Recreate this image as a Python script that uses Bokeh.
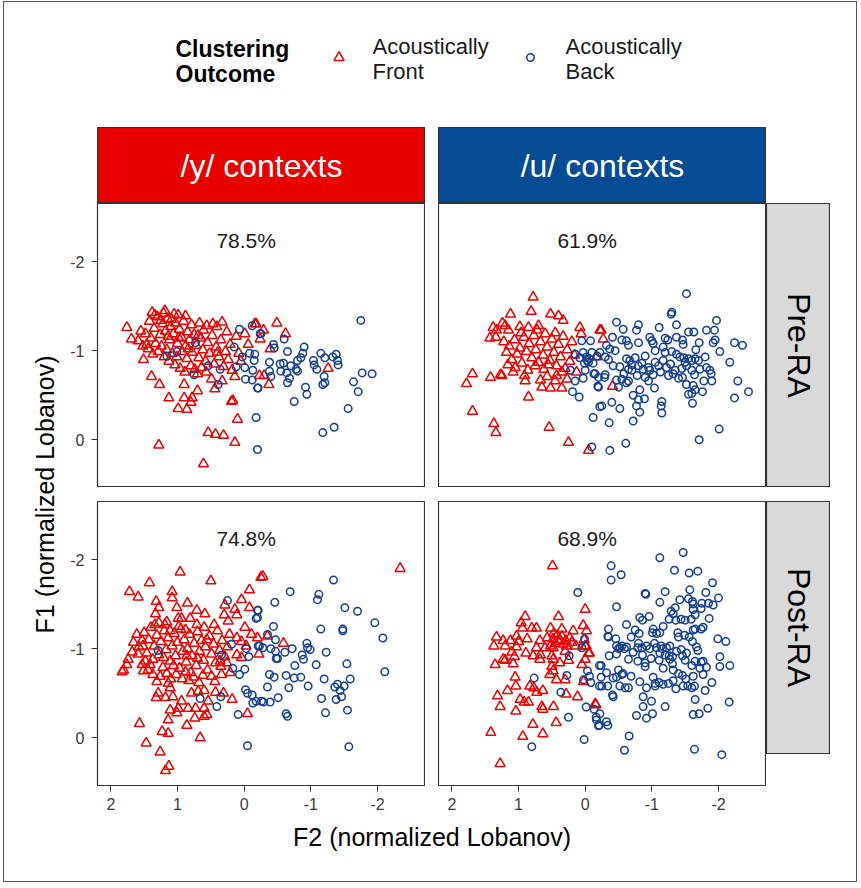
import math
from bokeh.plotting import figure
from bokeh.layouts import row, column
from bokeh.models import Range1d, FixedTicker, Spacer, CustomJSTickFormatter
from bokeh.core.properties import value
from bokeh.embed import file_html
from bokeh.resources import INLINE

# ---------------- data (F2, F1) in normalized Lobanov units ----------------
facet_cols = ["/y/ contexts", "/u/ contexts"]
facet_rows = ["Pre-RA", "Post-RA"]
pct_labels = ["78.5%", "61.9%", "74.8%", "68.9%"]
x_ticks = [2, 1, 0, -1, -2]
y_ticks = [-2, -1, 0]

y_pre_front = [
    (1.38,-1.43),(1.21,-1.42),(0.99,-1.40),(0.88,-1.39),(1.76,-1.26),(1.09,-1.35),(0.67,-1.31),(0.56,-1.28),
    (0.41,-1.27),(0.33,-1.32),(-0.16,-1.30),(1.69,-1.13),(1.59,-1.11),(1.46,-1.07),(1.51,-0.90),(1.39,-0.71),
    (1.27,-0.62),(1.13,-0.47),(0.99,-0.35),(0.86,-0.34),(0.90,-0.47),(0.78,-0.47),(0.80,-0.42),(0.70,-0.55),
    (0.90,-0.62),(0.44,-0.57),(0.33,-0.66),(0.49,-0.68),(0.17,-0.44),(0.19,-0.43),(0.10,-0.23),(0.54,-0.08),
    (0.43,-0.06),(0.31,-0.05),(0.14,0.03),(1.28,0.06),(0.61,0.27),(0.14,-0.71),(-0.06,-1.07),(-0.01,-1.19),
    (-0.49,-1.31),(-0.29,-1.23),(-0.62,-1.19),(-0.24,-1.13),(-0.39,-1.02),(-1.26,-0.80),(-0.30,-0.72),
    (-0.23,-0.72),(-0.37,-0.62),(-0.18,-1.30),
    (1.42,-1.33),(1.35,-1.25),(1.30,-1.38),(1.26,-1.18),(1.22,-1.30),(1.18,-1.22),(1.15,-1.36),(1.12,-1.12),
    (1.10,-1.27),(1.06,-1.19),(1.03,-1.31),(1.00,-1.08),(0.97,-1.24),(0.94,-1.15),(0.91,-1.33),(0.88,-1.05),
    (0.85,-1.21),(0.82,-1.12),(0.78,-0.98),(0.75,-1.18),(0.72,-1.06),(0.68,-0.92),(0.65,-1.14),(0.62,-1.01),
    (0.58,-0.88),(0.55,-1.09),(0.52,-0.97),(0.48,-1.17),(0.45,-0.85),(0.42,-1.04),(0.38,-0.93),(0.35,-1.12),
    (0.31,-0.82),(0.28,-0.99),(0.24,-0.90),(0.21,-1.07),(0.18,-0.78),(1.48,-1.19),(1.44,-1.02),(1.40,-1.14),
    (1.37,-0.96),(1.33,-1.08),(1.29,-0.99),(1.24,-1.05),(1.20,-0.93),(1.16,-1.01),(1.13,-0.88),(1.08,-0.97),
    (1.04,-0.84),(1.01,-0.93),(0.96,-0.80),(0.93,-0.99),(0.89,-0.76),(0.86,-0.91),(0.80,-0.83),(0.74,-0.79),
    (0.70,-0.74),(0.64,-0.81),(0.57,-0.76),(1.34,-1.40),(1.19,-1.45),(1.05,-1.41),(0.79,-1.29),(0.61,-1.23),
    (0.47,-1.30),(0.26,-1.21),(0.12,-1.16),(0.08,-0.97),(0.05,-0.88),(1.55,-1.22),(1.52,-1.05),(1.25,-1.34),
    (1.14,-1.16),(0.98,-1.14),(0.84,-1.02),(0.69,-1.17),(0.40,-0.98),
]
y_pre_back = [
    (0.73,-1.09),(1.01,-0.99),(1.16,-0.94),(0.54,-0.83),(0.36,-0.79),(0.75,-0.73),(0.39,-0.62),(0.15,-1.04),
    (0.07,-1.24),(-0.12,-1.28),(-0.24,-1.19),(0.03,-0.93),(-0.08,-0.97),(-0.16,-0.96),(-0.15,-0.89),(-0.01,-0.81),
    (-0.13,-0.78),(-0.02,-0.68),(-0.12,-0.67),(-0.21,-0.58),(0.12,-0.82),(-0.18,-0.25),(-0.20,0.11),
    (-1.75,-1.34),(-0.25,-1.19),(-0.60,-1.13),(-0.44,-1.07),(-0.45,-1.03),(-0.65,-0.99),(-0.90,-1.04),(-0.88,-0.97),
    (-0.85,-0.92),(-0.80,-0.89),(-0.38,-0.87),(-0.54,-0.85),(-0.59,-0.86),(-0.70,-0.83),(-0.55,-0.77),(-0.64,-0.75),
    (-0.78,-0.79),(-0.80,-0.77),(-0.38,-0.77),(-0.40,-0.71),(-0.68,-0.69),(-0.65,-0.64),(-1.15,-0.97),(-1.21,-0.92),
    (-1.04,-0.89),(-1.05,-0.84),(-1.09,-0.79),(-1.33,-0.93),(-1.38,-0.96),(-1.40,-0.89),(-1.41,-0.84),(-1.20,-0.71),
    (-1.21,-0.64),(-1.18,-0.62),(-1.77,-0.75),(-1.92,-0.74),(-1.64,-0.65),(-1.71,-0.54),(-0.92,-0.59),(-0.94,-0.51),
    (-0.75,-0.43),(-1.56,-0.35),(-1.35,-0.14),(-1.18,-0.08),(-0.20,-0.58),
]
u_pre_front = [
    (0.78,-1.60),(1.12,-1.41),(0.81,-1.44),(0.52,-1.41),(0.40,-1.39),(0.33,-1.34),(1.24,-1.31),(1.20,-1.28),
    (1.38,-1.26),(1.33,-1.23),(1.15,-1.23),(1.43,-1.14),(1.34,-1.15),(0.98,-1.27),(0.85,-1.26),(0.70,-1.28),
    (0.72,-1.23),(0.08,-1.26),(0.06,-1.19),(-0.22,-1.23),(1.69,-0.74),(1.78,-0.63),(1.42,-0.70),(1.27,-0.73),
    (1.25,-0.72),(1.08,-0.76),(0.90,-0.66),(0.91,-0.72),(0.67,-0.67),(0.65,-0.59),(0.52,-0.58),(0.35,-0.58),
    (0.45,-0.66),(0.27,-0.68),(0.57,-0.71),(0.43,-0.72),(0.85,-0.48),(1.69,-0.32),(1.37,-0.18),(1.34,-0.08),
    (0.54,-0.14),(0.25,0.03),(-0.05,0.12),(0.13,-0.76),(-0.24,-1.23),(-0.27,-1.13),(-0.41,-0.60),(-0.17,-0.93),
    (1.22,-1.10),(1.18,-0.98),(1.14,-1.05),(1.10,-0.90),(1.06,-1.12),(1.02,-0.96),(0.98,-1.03),(0.95,-0.86),
    (0.92,-1.15),(0.88,-0.99),(0.84,-1.08),(0.80,-0.92),(0.77,-1.17),(0.74,-1.01),(0.70,-0.87),(0.67,-1.10),
    (0.63,-0.95),(0.60,-1.19),(0.57,-1.04),(0.53,-0.89),(0.50,-1.13),(0.47,-0.98),(0.43,-0.83),(0.40,-1.07),
    (0.37,-0.93),(0.33,-1.16),(0.30,-0.80),(0.27,-1.01),(0.23,-0.88),(0.20,-1.10),(0.16,-0.95),(1.05,-0.81),
    (0.86,-0.78),(0.62,-0.79),(1.16,-0.84),(0.96,-1.20),(0.55,-0.84),(0.35,-0.76),(0.75,-0.83),(0.45,-1.20),
]
u_pre_back = [
    (0.05,-1.11),(-0.08,-1.11),(0.15,-0.96),(0.03,-0.98),(-0.10,-0.98),(-0.03,-0.89),(-0.05,-0.87),(-0.18,-0.94),
    (0.22,-0.78),(0.00,-0.78),(-0.13,-0.74),(0.15,-0.66),(0.03,-0.69),(-0.19,-0.60),(0.19,-0.54),(0.09,-0.48),
    (-0.22,-0.37),(-0.12,-0.25),(-0.10,0.08),
    (-1.52,-1.64),(-1.30,-1.43),(-1.29,-1.41),(-0.47,-1.32),(-0.80,-1.29),(-0.77,-1.23),(-0.57,-1.24),(-1.11,-1.26),
    (-1.37,-1.29),(-1.55,-1.21),(-1.63,-1.21),(-1.82,-1.23),(-1.94,-1.23),(-1.97,-1.34),(-0.41,-1.15),(-0.55,-1.12),
    (-0.62,-1.11),(-0.65,-1.06),(-0.80,-1.09),(-0.97,-1.15),(-1.00,-1.11),(-1.02,-1.08),(-1.20,-1.14),(-1.24,-1.12),
    (-1.37,-1.15),(-1.46,-1.12),(-1.47,-1.07),(-1.71,-1.09),(-1.92,-1.09),(-1.95,-1.12),(-2.24,-1.09),(-2.36,-1.06),
    (-2.02,-0.99),(-0.32,-1.06),(-0.37,-1.02),(-0.22,-0.98),(-0.30,-0.93),(-0.35,-0.90),(-0.45,-1.00),(-0.62,-0.91),
    (-0.67,-0.89),(-0.75,-0.92),(-0.90,-0.94),(-1.05,-1.00),(-1.17,-1.04),(-1.20,-0.98),(-1.30,-0.99),(-1.37,-0.96),
    (-1.42,-0.93),(-1.50,-0.87),(-1.52,-0.83),(-1.55,-0.91),(-1.60,-0.89),(-1.66,-1.01),(-1.65,-0.91),(-1.70,-0.89),
    (-1.80,-0.93),(-2.17,-0.87),(-0.42,-0.83),(-0.52,-0.82),(-0.65,-0.79),(-0.70,-0.78),(-0.80,-0.83),(-0.87,-0.79),
    (-0.95,-0.81),(-0.97,-0.78),(-1.05,-0.87),(-1.17,-0.89),(-1.22,-0.81),(-1.25,-0.72),(-1.35,-0.78),(-1.32,-0.74),
    (-1.40,-0.69),(-1.46,-0.70),(-1.60,-0.78),(-1.64,-0.73),(-1.72,-0.79),(-1.82,-0.81),(-1.87,-0.78),(-1.89,-0.74),
    (-1.90,-0.66),(-1.78,-0.66),(-0.15,-0.74),(-0.20,-0.70),(-0.30,-0.73),(-0.29,-0.70),(-0.47,-0.67),(-0.55,-0.68),
    (-0.62,-0.64),(-0.65,-0.66),(-0.95,-0.66),(-1.02,-0.73),(-0.20,-0.59),(-0.50,-0.59),(-1.04,-0.58),(-0.82,-0.56),
    (-1.52,-0.62),(-1.62,-0.61),(-1.65,-0.56),(-1.55,-0.51),(-1.60,-0.52),(-1.76,-0.54),(-2.29,-0.66),(-2.45,-0.54),
    (-2.24,-0.47),(-0.72,-0.50),(-0.80,-0.45),(-0.89,-0.46),(-0.77,-0.38),(-0.82,-0.31),(-1.15,-0.43),(-1.14,-0.38),
    (-1.15,-0.30),(-1.61,-0.41),(-0.40,-0.42),(-0.52,-0.35),(-0.25,-0.38),(-0.72,-0.21),(-0.36,-0.19),(-2.01,-0.12),
    (-1.71,0.00),(-0.61,0.04),(-0.37,0.12),
    (-0.02,-0.93),(-0.06,-0.91),(0.01,-0.86),(-0.12,-0.86),(0.08,-0.92),(-0.70,-0.84),(-0.85,-0.86),(-1.10,-0.83),
    (-1.13,-0.76),(-1.28,-0.85),(-1.45,-0.80),(-1.48,-0.92),(-0.58,-0.74),(-0.78,-0.72),(-0.90,-0.70),
]
y_post_front = [
    (0.96,-1.86),(1.42,-1.74),(0.50,-1.76),(1.72,-1.64),(1.59,-1.58),(1.08,-1.64),(1.08,-1.57),(1.32,-1.53),
    (1.28,-1.46),(1.33,-1.39),(0.85,-1.51),(1.01,-1.46),(0.99,-1.34),(0.71,-1.43),(0.59,-1.39),(-0.08,-1.66),
    (-0.25,-1.80),(0.04,-1.55),(0.29,-1.49),(0.14,-1.44),(0.30,-1.38),(0.11,-1.38),(-0.08,-1.46),(0.24,-1.31),
    (-0.01,-1.24),(0.94,-1.34),(0.81,-1.34),(0.71,-1.27),(1.28,-1.29),(1.19,-1.27),(1.11,-1.20),(1.61,-1.16),
    (1.66,-1.07),(1.53,-1.09),(1.68,-0.96),(1.59,-0.94),(1.74,-0.88),(1.76,-0.82),(1.83,-0.74),(1.81,-0.76),
    (1.53,-0.82),(1.51,-0.75),(1.41,-0.82),(1.37,-0.71),(1.31,-0.63),(1.16,-0.72),(1.14,-0.61),(1.11,-0.56),
    (1.29,-0.50),(1.32,-0.45),(1.18,-0.45),(1.07,-0.46),(0.94,-0.41),(0.79,-0.50),(0.69,-0.52),(0.60,-0.53),
    (1.11,-0.31),(0.99,-0.33),(1.01,-0.28),(1.14,-0.20),(0.84,-0.33),(0.73,-0.33),(0.74,-0.22),(0.86,-0.14),
    (0.60,-0.33),(0.56,-0.26),(0.60,-0.24),(0.43,-0.51),(0.31,-0.50),(0.18,-0.43),(0.54,-0.41),(1.57,-0.16),
    (1.23,-0.07),(1.14,-0.05),(0.66,0.00),(-0.05,-0.27),(1.47,0.06),(1.26,0.16),(1.13,0.32),(1.18,0.37),
    (0.49,-0.69),(0.44,-0.63),(0.34,-0.71),(0.36,-0.86),(0.26,-0.84),(0.21,-0.73),(0.11,-1.12),(0.04,-1.08),
    (-0.03,-1.03),(-0.11,-1.16),(0.11,-0.93),(0.04,-0.90),
    (-0.28,-1.81),(-2.34,-1.90),(-0.20,-1.12),(-0.35,-1.14),(-0.59,-1.06),(-0.22,-0.94),
    (1.58,-1.02),(1.50,-1.18),(1.46,-0.95),(1.43,-1.10),(1.40,-1.24),(1.37,-0.88),(1.35,-1.03),(1.31,-1.15),
    (1.28,-0.93),(1.25,-1.08),(1.22,-0.79),(1.20,-1.20),(1.17,-0.99),(1.14,-1.12),(1.11,-0.86),(1.08,-1.03),
    (1.05,-1.17),(1.03,-0.92),(1.00,-1.07),(0.97,-0.78),(0.95,-1.22),(0.92,-0.97),(0.90,-1.10),(0.87,-0.85),
    (0.85,-1.00),(0.82,-1.16),(0.80,-0.73),(0.78,-0.92),(0.75,-1.06),(0.72,-0.81),(0.70,-1.19),(0.67,-0.97),
    (0.64,-1.09),(0.61,-0.87),(0.58,-1.02),(0.55,-0.76),(0.52,-1.14),(0.49,-0.94),(0.46,-1.05),(0.43,-0.84),
    (0.40,-1.20),(0.37,-0.98),(0.33,-1.09),(0.29,-0.91),(0.25,-1.02),(0.22,-1.16),(1.48,-0.86),(1.44,-0.76),
    (1.26,-0.69),(1.10,-0.66),(1.02,-0.71),(0.93,-0.66),(0.88,-0.74),(0.83,-0.64),(0.76,-0.68),(0.68,-0.62),
    (0.62,-0.70),(1.34,-1.27),(1.16,-1.30),(0.98,-1.25),(0.88,-1.21),(0.60,-1.24),(0.45,-1.27),(1.52,-1.03),
    (1.21,-0.90),(1.06,-0.81),(0.86,-0.92),(0.70,-0.89),(0.56,-1.10),(0.35,-0.80),
]
y_post_back = [
    (0.25,-1.54),(-0.20,-1.43),(-0.18,-1.34),(0.19,-1.05),(-0.03,-1.00),(-0.21,-1.03),(-0.07,-0.91),(0.17,-0.78),
    (0.07,-0.71),(-0.01,-0.77),(-0.02,-0.54),(-0.05,-0.50),(-0.12,-0.48),(-0.13,-0.39),(-0.26,-0.41),(0.66,-0.44),
    (0.41,-0.35),(0.35,-0.46),(0.09,-0.26),(-0.05,0.09),(1.29,-0.98),(0.34,-0.93),
    (-1.34,-1.77),(-0.69,-1.64),(-1.12,-1.61),(-1.10,-1.55),(-0.46,-1.52),(-1.51,-1.46),(-1.70,-1.42),(-0.21,-1.43),
    (-0.20,-1.35),(-0.44,-1.25),(-1.15,-1.22),(-1.48,-1.22),(-1.48,-1.20),(-1.96,-1.29),(-2.08,-1.12),(-0.35,-1.16),
    (-0.47,-1.10),(-0.23,-1.03),(-0.28,-1.01),(-0.40,-1.00),(-0.47,-0.97),(-0.61,-0.96),(-0.72,-1.00),(-0.48,-0.89),
    (-0.50,-0.89),(-0.94,-1.06),(-0.95,-1.01),(-0.99,-0.99),(-0.87,-0.93),(-0.89,-0.88),(-1.23,-0.96),(-0.76,-0.81),
    (-1.08,-0.82),(-1.54,-0.83),(-2.11,-0.74),(-0.38,-0.71),(-0.45,-0.68),(-0.63,-0.70),(-0.75,-0.67),(-0.85,-0.68),
    (-1.20,-0.66),(-1.59,-0.66),(-0.35,-0.57),(-0.67,-0.56),(-0.96,-0.58),(-1.40,-0.60),(-1.36,-0.57),(-1.50,-0.58),
    (-1.44,-0.53),(-1.46,-0.46),(-1.38,-0.43),(-0.51,-0.45),(-0.29,-0.40),(-0.39,-0.40),(-1.16,-0.44),(-0.63,-0.27),
    (-0.65,-0.24),(-1.22,-0.28),(-1.55,-0.31),(-1.57,0.10),(-0.18,-0.41),
]
u_post_front = [
    (0.49,-1.93),(0.00,-1.44),(0.90,-1.36),(0.40,-1.36),(0.96,-1.29),(0.94,-1.23),(0.80,-1.23),(0.73,-1.23),
    (0.52,-1.23),(0.35,-1.22),(0.18,-1.20),(0.03,-1.26),(-0.02,-1.20),(1.33,-1.13),(1.23,-1.09),(1.12,-1.09),
    (1.03,-1.14),(1.00,-1.08),(0.87,-1.11),(0.68,-1.09),(0.57,-1.12),(0.48,-1.11),(0.45,-1.06),(0.40,-1.08),
    (0.35,-1.14),(0.29,-1.09),(0.23,-1.12),(0.20,-1.07),(1.37,-1.03),(1.20,-1.03),(1.03,-1.02),(0.73,-1.01),
    (0.60,-1.01),(0.52,-1.03),(0.48,-1.01),(0.28,-1.03),(0.14,-1.03),(0.00,-1.03),(1.10,-0.96),(0.89,-0.95),
    (0.78,-0.92),(0.67,-0.93),(0.50,-0.92),(0.30,-0.97),(-0.05,-0.95),(1.35,-0.82),(1.23,-0.88),(1.20,-0.87),
    (1.08,-0.83),(1.06,-0.91),(0.68,-0.88),(0.48,-0.88),(0.38,-0.84),(0.25,-0.87),(0.00,-0.88),(0.05,-0.82),
    (0.50,-0.80),(0.48,-0.75),(0.53,-0.71),(0.43,-0.65),(0.30,-0.65),(1.05,-0.68),(1.04,-0.58),(0.83,-0.58),
    (0.77,-0.56),(1.165,-0.53),(0.725,-0.51),(0.635,-0.53),(1.315,-0.47),(0.975,-0.43),(0.915,-0.40),(0.85,-0.40),
    (0.285,-0.49),(0.115,-0.46),(1.275,-0.35),(0.65,-0.35),(0.635,-0.32),(0.475,-0.35),(0.025,-0.63),(-0.15,-0.38),
    (1.04,-0.30),(0.785,-0.15),(0.435,-0.17),(1.415,-0.06),(0.935,-0.015),(0.635,-0.045),(1.275,0.29),(0.015,-1.10),
    (-0.015,-1.03),(-0.065,-0.95),(-0.16,-0.37),(0.42,-1.15),(0.38,-1.10),(0.47,-1.17),(0.33,-1.05),
]
u_post_back = [
    (0.11,-1.63),(0.01,-1.11),(0.05,-1.01),(0.24,-0.92),(-0.035,-0.75),(-0.065,-0.69),(0.025,-0.65),(-0.085,-0.62),
    (-0.215,-0.81),(-0.215,-0.58),(0.765,-0.67),(0.275,-0.70),(0.365,-0.51),(-0.015,-0.345),(-0.135,-0.32),
    (-0.165,-0.23),(-0.20,-0.135),(0.25,-0.23),(0.015,0.02),(0.80,0.10),
    (-1.47,-2.08),(-1.12,-2.02),(-0.39,-1.93),(-0.39,-1.77),(-0.54,-1.83),(-1.34,-1.88),(-1.56,-1.85),(-1.69,-1.87),
    (-1.91,-1.74),(-0.90,-1.62),(-0.91,-1.61),(-1.20,-1.64),(-1.57,-1.66),(-1.81,-1.63),(-2.00,-1.57),(-1.12,-1.52),
    (-1.42,-1.55),(-1.55,-1.56),(-1.61,-1.53),(-1.62,-1.50),(-1.62,-1.44),(-1.75,-1.51),(-1.85,-1.51),(-1.92,-1.49),
    (-1.74,-1.45),(-0.47,-1.47),(-1.35,-1.46),(-1.29,-1.42),(-1.32,-1.39),(-0.82,-1.35),(-0.86,-1.32),(-0.96,-1.36),
    (-1.26,-1.33),(-1.36,-1.32),(-1.44,-1.33),(-1.50,-1.32),(-1.59,-1.33),(-1.65,-1.38),(-1.86,-1.34),(-0.62,-1.27),
    (-1.17,-1.25),(-0.35,-1.22),(-0.34,-1.14),(-0.35,-1.13),(-0.75,-1.21),(-0.81,-1.17),(-1.02,-1.22),(-1.01,-1.18),
    (-1.07,-1.17),(-1.12,-1.18),(-1.39,-1.18),(-1.40,-1.13),(-1.49,-1.15),(-1.56,-1.13),(-1.62,-1.21),(-1.65,-1.22),
    (-1.74,-1.22),(-1.77,-1.24),(-1.99,-1.11),(-2.11,-1.08),(-0.69,-1.13),(-0.46,-1.11),(-0.55,-1.03),(-0.52,-1.01),
    (-0.50,-1.00),(-0.47,-1.03),(-0.62,-1.02),(-0.59,-1.00),(-0.80,-1.06),(-0.79,-1.01),(-0.85,-1.01),(-0.92,-1.03),
    (-0.97,-1.00),(-1.04,-1.06),(-1.07,-1.01),(-1.14,-1.03),(-1.16,-1.00),(-1.22,-1.01),(-1.27,-1.03),(-1.12,-0.95),
    (-1.20,-0.93),(-1.26,-0.92),(-1.31,-0.91),(-1.37,-0.97),(-1.44,-0.99),(-1.46,-0.92),(-1.52,-0.95),(-1.61,-1.08),
    (-1.67,-1.02),(-1.69,-0.98),(-0.36,-0.92),(-0.47,-0.94),(-0.65,-0.88),(-0.72,-0.96),(-0.79,-0.86),(-0.86,-0.93),
    (-0.90,-0.84),(-0.90,-0.80),(-0.99,-0.89),(-1.11,-0.87),(-1.27,-0.88),(-1.31,-0.83),(-1.50,-0.87),(-1.60,-0.81),
    (-1.65,-0.86),(-1.72,-0.78),(-1.74,-0.85),(-1.77,-0.86),(-1.82,-0.79),(-2.02,-0.91),(-2.02,-0.80),(-2.17,-0.81),
    (-0.24,-0.81),(-0.32,-0.73),(-0.24,-0.68),(-0.50,-0.76),(-0.57,-0.72),(-0.69,-0.69),(-1.17,-0.78),(-1.32,-0.76),
    (-1.40,-0.72),(-1.46,-0.70),(-1.51,-0.66),(-1.62,-0.69),(-1.77,-0.71),(-1.90,-0.62),(-0.42,-0.67),(-0.47,-0.68),
    (-0.55,-0.71),(-0.82,-0.63),(-1.02,-0.68),(-1.05,-0.61),(-1.11,-0.62),(-1.17,-0.60),(-1.25,-0.61),(-1.32,-0.64),
    (-0.25,-0.58),(-0.34,-0.58),(-0.52,-0.58),(-0.60,-0.56),(-0.65,-0.56),(-0.92,-0.56),(-1.05,-0.58),(-1.36,-0.55),
    (-1.47,-0.58),(-1.54,-0.58),(-1.60,-0.56),(-1.64,-0.58),(-1.80,-0.53),(-0.41,-0.48),(-0.42,-0.46),(-0.87,-0.46),
    (-1.65,-0.43),(-0.995,-0.41),(-0.87,-0.35),(-1.20,-0.35),(-2.16,-0.40),(-1.84,-0.33),(-1.62,-0.26),(-1.71,-0.27),
    (-1.01,-0.27),(-0.77,-0.25),(-0.92,-0.22),(-0.22,-0.27),(-0.17,-0.20),(-0.21,-0.14),(-0.32,-0.18),(-0.34,-0.14),
    (-0.66,-0.02),(-0.59,0.14),(-1.64,0.13),(-2.05,0.19),
]
pct_pos = (-0.03, -2.24)

# ---------------- style ----------------
FONT = "Liberation Sans"
RED = "#EB0000"
BLUE = "#143F8E"
STRIP_RED = "#E80000"
STRIP_BLUE = "#064C94"
STRIP_GRAY = "#D9D9D9"
EDGE = "#333333"
X_RANGE = (2.2, -2.72)
Y_RANGE = (0.536, -2.652)
FW, FH = 328, 284
YAX_W = 33          # border reserved for y tick labels
YLAB_W = 93 - YAX_W  # strip holding the y-axis title


def base_fig(w, h, xr=(0, 1), yr=(0, 1), **kw):
    f = figure(width=w, height=h, x_range=Range1d(*xr), y_range=Range1d(*yr),
               output_backend="svg", toolbar_location=None,
               x_axis_location=None, y_axis_location=None,
               min_border_left=0, min_border_right=0, min_border_top=0, min_border_bottom=0, **kw)
    f.grid.visible = False
    f.outline_line_color = None
    f.background_fill_color = "white"
    f.border_fill_color = "white"
    return f


def panel(front, back, pct, show_x, show_y):
    p = figure(frame_width=FW, frame_height=FH,
               x_range=Range1d(*X_RANGE), y_range=Range1d(*Y_RANGE),
               output_backend="svg", toolbar_location=None,
               x_axis_location="below" if show_x else None,
               y_axis_location="left" if show_y else None,
               min_border_left=YAX_W if show_y else 0, min_border_right=0,
               min_border_top=0, min_border_bottom=32 if show_x else 0)
    p.grid.visible = False
    p.outline_line_color = EDGE
    p.outline_line_width = 1.2
    p.background_fill_color = "white"
    p.border_fill_color = "white"
    for ax in p.axis:
        ax.axis_line_color = None
        ax.major_tick_line_color = EDGE
        ax.major_tick_out = 6
        ax.major_tick_in = 0
        ax.minor_tick_line_color = None
        ax.major_label_text_font = FONT
        ax.major_label_text_font_size = "16px"
        ax.major_label_text_color = "#3a3a3a"
        ax.formatter = CustomJSTickFormatter(code="return String(tick);")
    if show_x:
        p.xaxis.ticker = FixedTicker(ticks=x_ticks)
        p.xaxis.major_label_standoff = 6
    if show_y:
        p.yaxis.ticker = FixedTicker(ticks=y_ticks)
        p.yaxis.major_label_standoff = 7
    p.scatter([a for a, b in front], [b for a, b in front], marker="triangle", size=10,
              fill_color=None, line_color=RED, line_width=1.5)
    p.scatter([a for a, b in back], [b for a, b in back], marker="circle", size=7.5,
              fill_color=None, line_color=BLUE, line_width=1.5)
    p.text(x=[pct_pos[0]], y=[pct_pos[1]], text=[pct], text_align="center", text_baseline="middle",
           text_font=value(FONT), text_font_size="21px", text_color="#1a1a1a")
    return p


def strip(label, w, h, fill, color, angle):
    s = base_fig(w, h)
    s.background_fill_color = fill
    s.outline_line_color = EDGE
    s.outline_line_width = 1.2
    s.text(x=[0.5], y=[0.5], text=[label], angle=angle, text_align="center", text_baseline="middle",
           text_font=value(FONT), text_font_size="32px", text_color=color)
    return s


# legend (drawn in a decoration figure whose ranges follow the page)
leg = base_fig(852, 125, xr=(4, 856), yr=(127, 2))
leg.text(x=[175, 175], y=[48, 73], text=["Clustering", "Outcome"], text_align="left", text_baseline="middle",
         text_font=value(FONT), text_font_size="23px", text_font_style="bold", text_color="black")
leg.scatter(x=[338.5], y=[57], marker="triangle", size=10, fill_color=None, line_color=RED, line_width=1.5)
leg.scatter(x=[530], y=[57], marker="circle", size=7.5, fill_color=None, line_color=BLUE, line_width=1.5)
leg.text(x=[372, 372, 565, 565], y=[46, 71, 46, 71], text=["Acoustically", "Front", "Acoustically", "Back"],
         text_align="left", text_baseline="middle", text_font=value(FONT), text_font_size="22px",
         text_color="#1a1a1a")

strip_row = row(Spacer(width=93, height=76),
                strip(facet_cols[0], FW, 76, STRIP_RED, "white", 0),
                Spacer(width=13, height=76),
                strip(facet_cols[1], FW, 76, STRIP_BLUE, "white", 0), spacing=0)

p1 = panel(y_pre_front, y_pre_back, pct_labels[0], False, True)
p2 = panel(u_pre_front, u_pre_back, pct_labels[1], False, False)
p3 = panel(y_post_front, y_post_back, pct_labels[2], True, True)
p4 = panel(u_post_front, u_post_back, pct_labels[3], True, False)

BOT = 32
ylab_h = FH + 14 + FH + BOT
ylab = base_fig(YLAB_W, ylab_h)
ylab.text(x=[40 / YLAB_W], y=[1 - 291 / ylab_h], text=["F1 (normalized Lobanov)"], angle=math.pi / 2,
          text_align="center", text_baseline="middle", text_font=value(FONT), text_font_size="25px",
          text_color="black")

grid = column(
    row(p1, Spacer(width=13, height=FH), p2,
        strip(facet_rows[0], 64, FH, STRIP_GRAY, "black", -math.pi / 2), spacing=0),
    Spacer(width=10, height=14),
    row(p3, Spacer(width=13, height=FH), p4,
        strip(facet_rows[1], 64, FH, STRIP_GRAY, "black", -math.pi / 2), spacing=0),
    spacing=0)
body = row(ylab, grid, spacing=0)

xlab = base_fig(669, 64)
xlab.text(x=[0.5], y=[1 - 19 / 64], text=["F2 (normalized Lobanov)"], text_align="center",
          text_baseline="middle", text_font=value(FONT), text_font_size="25px", text_color="black")
xlab_row = row(Spacer(width=93, height=64), xlab, spacing=0)

root = column(leg, strip_row, body, xlab_row, spacing=0,
              styles={"border": "1px solid #555555", "background-color": "white"})
root.margin = (1, 0, 0, 3)

open("out.html", "w").write(file_html(root, INLINE, title="Clustering outcome"))
